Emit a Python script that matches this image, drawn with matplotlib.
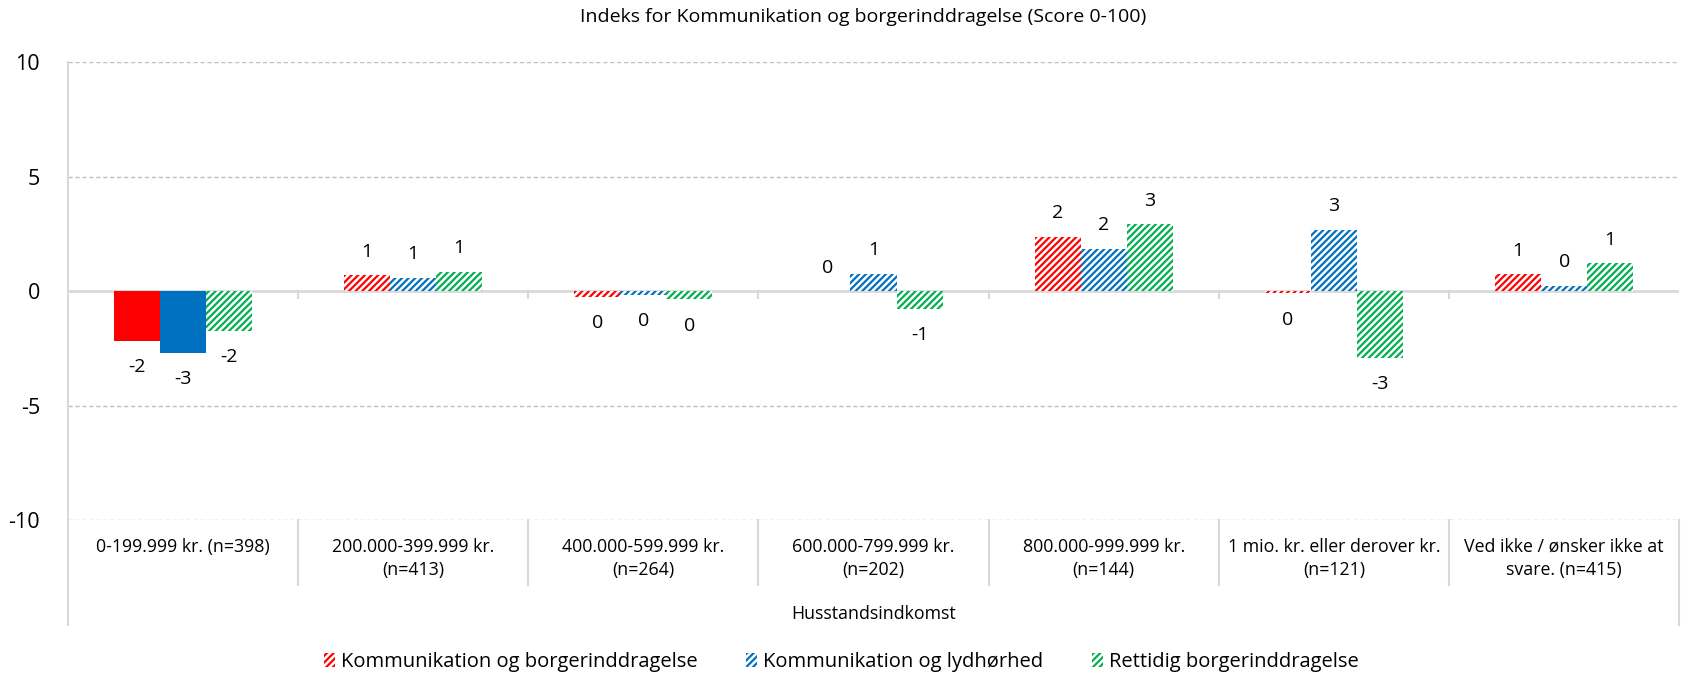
import matplotlib.pyplot as plt
import numpy as np
from matplotlib.lines import Line2D
from matplotlib.patches import Patch

plt.rcParams['font.family'] = ['Open Sans', 'DejaVu Sans']
plt.rcParams['hatch.linewidth'] = 1.6
plt.rcParams['axes.unicode_minus'] = False

# Income groups and index change per series
categories = ['0-199.999 kr. (n=398)', '200.000-399.999 kr.\n(n=413)',
              '400.000-599.999 kr.\n(n=264)', '600.000-799.999 kr.\n(n=202)',
              '800.000-999.999 kr.\n(n=144)', '1 mio. kr. eller derover kr.\n(n=121)',
              'Ved ikke / ønsker ikke at\nsvare. (n=415)']
series_names = ['Kommunikation og borgerinddragelse', 'Kommunikation og lydhørhed',
                'Rettidig borgerinddragelse']
komm_borger = [-2.16, 0.70, -0.25, 0.0, 2.38, -0.10, 0.73]
komm_lydhor = [-2.69, 0.58, -0.15, 0.75, 1.84, 2.67, 0.23]
rettidig = [-1.73, 0.84, -0.35, -0.78, 2.92, -2.91, 1.21]
colors = ['#FF0000', '#0070C0', '#00B050']

fig = plt.figure(figsize=(16.83, 6.73), dpi=100)
ax = fig.add_axes([0.0402, 0.2273, 0.9576, 0.6801])

grid_c = '#d9d9d9'
n = len(categories)
x = np.arange(n) + 0.5
w = 0.2
hatch = '/////'

for j, (vals, c) in enumerate(zip([komm_borger, komm_lydhor, rettidig], colors)):
    for i, v in enumerate(vals):
        # first income group has solid fills for the two communication series
        if i == 0 and j < 2:
            ax.bar(x[i] + (j - 1) * w, v, w, color=c, linewidth=0, zorder=3)
        else:
            ax.bar(x[i] + (j - 1) * w, v, w, color='white', edgecolor=c,
                   hatch=hatch, linewidth=0, zorder=3)
        lbl = str(int(round(v)))
        if v >= 0:
            ax.annotate(lbl, (x[i] + (j - 1) * w, v), xytext=(0, 17),
                        textcoords='offset points', ha='center', va='center', fontsize=14)
        else:
            ax.annotate(lbl, (x[i] + (j - 1) * w, v), xytext=(0, -19),
                        textcoords='offset points', ha='center', va='center', fontsize=14)

ax.set_xlim(0, n)
ax.set_ylim(-10, 10)
ax.set_yticks([-10, -5, 0, 5, 10])
ax.tick_params(axis='y', length=0, pad=20, labelsize=15.5)
ax.set_xticks([])
for s in ['top', 'right', 'bottom', 'left']:
    ax.spines[s].set_visible(False)

for yv in [-10, -5, 5, 10]:
    ax.axhline(yv, color='#bfbfbf', lw=1, ls=(0, (3, 2)), zorder=1)
ax.axhline(0, color=grid_c, lw=2, zorder=2)

# tick marks on the zero line between groups
for k in range(1, n):
    ax.plot([k, k], [0, -0.3], color=grid_c, lw=1.5, zorder=2)

# table style category axis
lines = [Line2D([0, 0], [1, -0.229]), Line2D([1, 1], [0, -0.229])]
lines += [Line2D([k / n, k / n], [0, -0.142]) for k in range(1, n)]
for ln in lines:
    ln.set_transform(ax.transAxes)
    ln.set_color(grid_c)
    ln.set_linewidth(1.5)
    ln.set_clip_on(False)
    ax.add_line(ln)

for i, cat in enumerate(categories):
    ax.text(x[i], -0.039, cat, transform=ax.get_xaxis_transform(), ha='center',
            va='top', fontsize=12.8, linespacing=1.36)

ax.text(0.5, -0.205, 'Husstandsindkomst', transform=ax.transAxes, ha='center',
        va='center', fontsize=12.8)

fig.text(0.513, 0.974, 'Indeks for Kommunikation og borgerinddragelse (Score 0-100)',
         ha='center', va='center', fontsize=14)

handles = [Patch(facecolor='white', edgecolor=c, hatch=hatch, linewidth=0) for c in colors]
fig.legend(handles, series_names, loc='center', bbox_to_anchor=(0.5, 0.016), ncol=3,
           frameon=False, fontsize=14.5, handlelength=0.55, handleheight=0.7,
           handletextpad=0.3, columnspacing=2.4)

fig.savefig('out.png', dpi=100)
